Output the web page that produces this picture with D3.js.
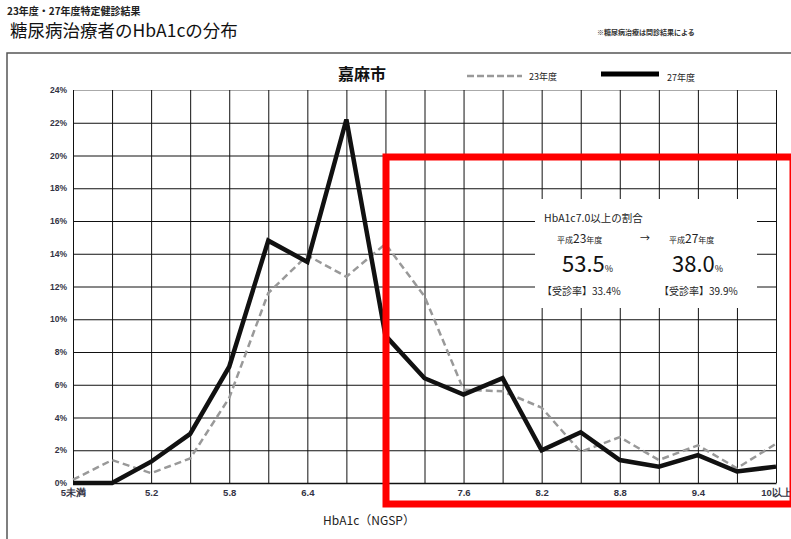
<!DOCTYPE html>
<html><head><meta charset="utf-8">
<script src="https://cdn.jsdelivr.net/npm/d3@7"></script>
<style>
html,body{margin:0;padding:0;background:#fff;overflow:hidden}
svg{display:block;font-family:"Noto Sans CJK JP","Noto Sans",sans-serif}
</style></head>
<body>
<svg id="chart" width="791" height="539"></svg>
<script>
// HbA1c classes (NGSP) along the x axis
const categories = ["5未満","5.0","5.2","5.5","5.8","6.1","6.4","6.7","7.0","7.3","7.6","7.9","8.2","8.5","8.8","9.1","9.4","9.7","10以上"];
const tickLabels = ["5未満","","5.2","","5.8","","6.4","","","","7.6","","8.2","","8.8","","9.4","","10以上"];
// share of treated diabetics per class (%)
const valuesH23 = [0.2,1.4,0.6,1.5,5.2,11.6,13.9,12.6,14.6,11.4,5.7,5.6,4.6,1.9,2.8,1.4,2.3,0.9,2.4];
const valuesH27 = [0,0,1.3,3.0,7.1,14.8,13.5,22.2,9.0,6.4,5.4,6.4,2.0,3.1,1.4,1.0,1.7,0.7,1.0];
const yTicks = [0,2,4,6,8,10,12,14,16,18,20,22,24];

const svg = d3.select("#chart");
const plotL = 73, plotR = 776, plotT = 90, plotB = 483;

const x = d3.scalePoint().domain(categories).range([plotL, plotR]);
const y = d3.scaleLinear().domain([0, 24]).range([plotB, plotT]);

// headings
svg.append("text").attr("x", 7).attr("y", 15).attr("font-size", 10).attr("font-weight", 700)
  .attr("fill", "#222").text("23年度・27年度特定健診結果");
svg.append("text").attr("x", 10).attr("y", 37).attr("font-size", 17.5).attr("fill", "#111")
  .text("糖尿病治療者のHbA1cの分布");
svg.append("text").attr("x", 597).attr("y", 35).attr("font-size", 7).attr("font-weight", 700)
  .attr("fill", "#333").text("※糖尿病治療は問診結果による");

// outer frame
svg.append("rect").attr("x", 7).attr("y", 53).attr("width", 820).attr("height", 520)
  .attr("fill", "none").attr("stroke", "#555").attr("stroke-width", 1.5);

// chart title and legend
svg.append("text").attr("x", 362).attr("y", 80).attr("text-anchor", "middle")
  .attr("font-size", 16).attr("font-weight", 700).attr("fill", "#111").text("嘉麻市");
svg.append("line").attr("x1", 467).attr("x2", 522).attr("y1", 76).attr("y2", 76)
  .attr("stroke", "#999").attr("stroke-width", 2.5).attr("stroke-dasharray", "7,3");
svg.append("text").attr("x", 529).attr("y", 80).attr("font-size", 9).attr("fill", "#222").text("23年度");
svg.append("line").attr("x1", 601).attr("x2", 659).attr("y1", 74).attr("y2", 74)
  .attr("stroke", "#000").attr("stroke-width", 5);
svg.append("text").attr("x", 667).attr("y", 81).attr("font-size", 9).attr("fill", "#222").text("27年度");

// grid via axes
const gy = svg.append("g").attr("transform", `translate(${plotL},0)`)
  .call(d3.axisLeft(y).tickValues(yTicks).tickSize(-(plotR - plotL)).tickPadding(6).tickFormat(d => d + "%"));
gy.select(".domain").remove();
gy.selectAll(".tick line").attr("stroke", "#111").attr("stroke-width", 1);
gy.selectAll(".tick").filter(d => d === 24).select("line").attr("stroke", "#aaa");
gy.selectAll("text").attr("font-size", 8.5).attr("font-weight", 700).attr("fill", "#334")
  .attr("font-family", "Liberation Sans, Arial, sans-serif");

const gx = svg.append("g").attr("transform", `translate(0,${plotB})`)
  .call(d3.axisBottom(x).tickSize(plotB - plotT).tickSizeOuter(0).tickPadding(4)
    .tickFormat((d, i) => tickLabels[i]));
gx.select(".domain").attr("stroke", "#111").attr("stroke-width", 1.5);
gx.selectAll(".tick line").attr("y1", -(plotB - plotT)).attr("y2", 0).attr("stroke", "#111").attr("stroke-width", 1);
gx.selectAll("text").attr("y", 6).attr("font-size", 9.5).attr("font-weight", 700).attr("fill", "#334");

svg.append("text").attr("x", 369).attr("y", 525).attr("text-anchor", "middle")
  .attr("font-size", 12).attr("fill", "#222").text("HbA1c（NGSP）");

// annotation panel background
svg.append("rect").attr("x", 535).attr("y", 199).attr("width", 222).attr("height", 109).attr("fill", "#fff");

// series lines
const line = d3.line().x((d, i) => x(categories[i])).y(d => y(d));
svg.append("path").datum(valuesH23).attr("d", line).attr("fill", "none")
  .attr("stroke", "#999").attr("stroke-width", 2.5).attr("stroke-dasharray", "7,4");
svg.append("path").datum(valuesH27).attr("d", line).attr("fill", "none")
  .attr("stroke", "#111").attr("stroke-width", 4.5).attr("stroke-linejoin", "miter");

// annotation text
const ann = svg.append("g").attr("fill", "#222");
ann.append("text").attr("x", 544).attr("y", 222).attr("font-size", 10.5).text("HbA1c7.0以上の割合");
function yearLabel(xp, yr) {
  const t = ann.append("text").attr("x", xp).attr("y", 243);
  t.append("tspan").attr("font-size", 8).text("平成");
  t.append("tspan").attr("font-size", 12).text(yr);
  t.append("tspan").attr("font-size", 8).text("年度");
}
yearLabel(557, "23");
yearLabel(669, "27");
ann.append("text").attr("x", 640).attr("y", 242).attr("font-size", 10).text("→");
function bigVal(xp, v) {
  const t = ann.append("text").attr("x", xp).attr("y", 272).attr("fill", "#111");
  t.append("tspan").attr("font-size", 22).text(v);
  t.append("tspan").attr("font-size", 9).text("%");
}
bigVal(562, "53.5");
bigVal(672, "38.0");
ann.append("text").attr("x", 542).attr("y", 295).attr("font-size", 10).text("【受診率】33.4%");
ann.append("text").attr("x", 659).attr("y", 295).attr("font-size", 10).text("【受診率】39.9%");

// highlight frame for HbA1c 7.0 and above
svg.append("rect").attr("x", 386).attr("y", 157).attr("width", 407).attr("height", 347)
  .attr("fill", "none").attr("stroke", "#ff0000").attr("stroke-width", 7);
</script>
</body></html>
